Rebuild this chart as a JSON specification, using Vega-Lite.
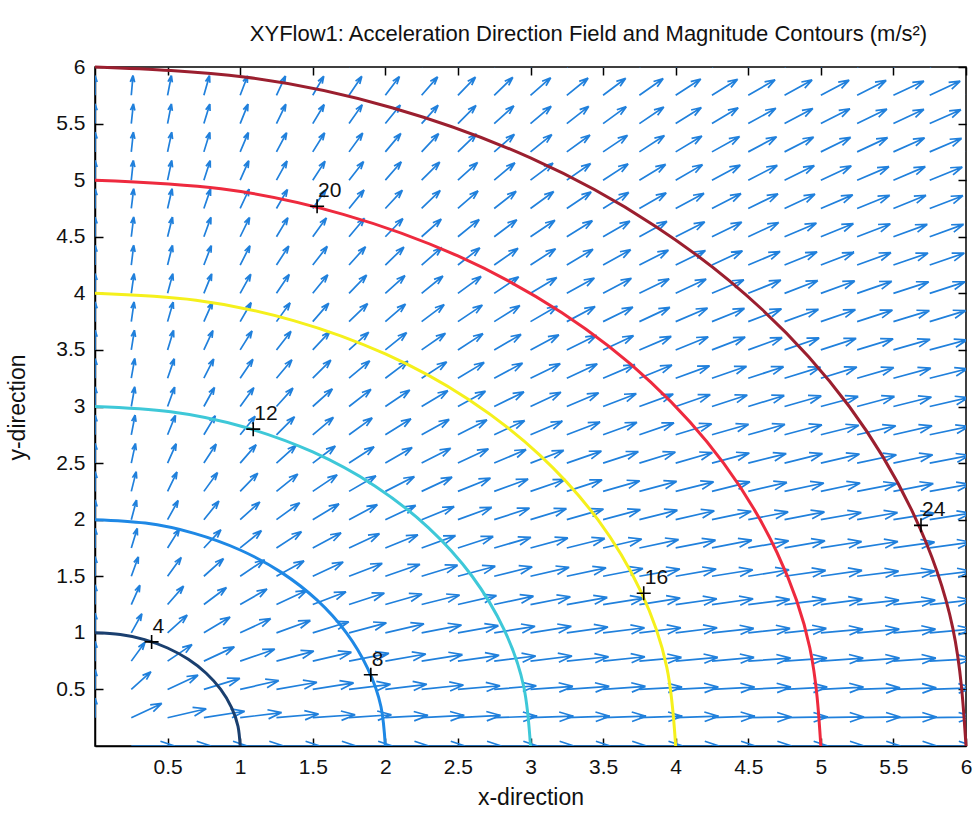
{
"$schema":"https://vega.github.io/schema/vega-lite/v6.json",
"width":871,"height":679,
"autosize":{"type":"none"},
"padding":{"left":95,"top":67,"right":11,"bottom":69},
"background":"#ffffff",
"title":{"text":"XYFlow1:  Acceleration Direction Field and Magnitude Contours (m/s²)","fontSize":22,"fontWeight":"normal","font":"Liberation Sans","color":"#111111","anchor":"middle","frame":"group","baseline":"alphabetic","offset":-7,"dx":58},
"config":{"view":{"stroke":"#000000","strokeWidth":1.5},"axis":{"labelFont":"Liberation Sans","titleFont":"Liberation Sans","labelColor":"#111111","titleColor":"#111111","tickColor":"#000000","domainColor":"#000000","grid":false,"labelFontSize":21,"titleFontSize":23,"titleFontWeight":"normal","tickWidth":1.5,"domainWidth":1.5,"labelFlush":false,"labelOverlap":false}},
"datasets":{
"arrows":[
{"x":0.25,"y":0,"a":0},{"x":0.5,"y":0,"a":0},{"x":0.75,"y":0,"a":0},{"x":1,"y":0,"a":0},{"x":1.25,"y":0,"a":0},{"x":1.5,"y":0,"a":0},{"x":1.75,"y":0,"a":0},{"x":2,"y":0,"a":0},{"x":2.25,"y":0,"a":0},{"x":2.5,"y":0,"a":0},{"x":2.75,"y":0,"a":0},{"x":3,"y":0,"a":0},{"x":3.25,"y":0,"a":0},{"x":3.5,"y":0,"a":0},{"x":3.75,"y":0,"a":0},{"x":4,"y":0,"a":0},{"x":4.25,"y":0,"a":0},{"x":4.5,"y":0,"a":0},{"x":4.75,"y":0,"a":0},{"x":5,"y":0,"a":0},{"x":5.25,"y":0,"a":0},{"x":5.5,"y":0,"a":0},{"x":5.75,"y":0,"a":0},{"x":6,"y":0,"a":0},
{"x":0,"y":0.25,"a":90},{"x":0.25,"y":0.25,"a":25},{"x":0.5,"y":0.25,"a":13},{"x":0.75,"y":0.25,"a":9},{"x":1,"y":0.25,"a":7},{"x":1.25,"y":0.25,"a":5},{"x":1.5,"y":0.25,"a":4},{"x":1.75,"y":0.25,"a":4},{"x":2,"y":0.25,"a":3},{"x":2.25,"y":0.25,"a":3},{"x":2.5,"y":0.25,"a":3},{"x":2.75,"y":0.25,"a":2},{"x":3,"y":0.25,"a":2},{"x":3.25,"y":0.25,"a":2},{"x":3.5,"y":0.25,"a":2},{"x":3.75,"y":0.25,"a":2},{"x":4,"y":0.25,"a":2},{"x":4.25,"y":0.25,"a":2},{"x":4.5,"y":0.25,"a":1},{"x":4.75,"y":0.25,"a":1},{"x":5,"y":0.25,"a":1},{"x":5.25,"y":0.25,"a":1},{"x":5.5,"y":0.25,"a":1},{"x":5.75,"y":0.25,"a":1},{"x":6,"y":0.25,"a":1},
{"x":0,"y":0.5,"a":90},{"x":0.25,"y":0.5,"a":42},{"x":0.5,"y":0.5,"a":25},{"x":0.75,"y":0.5,"a":17},{"x":1,"y":0.5,"a":13},{"x":1.25,"y":0.5,"a":10},{"x":1.5,"y":0.5,"a":9},{"x":1.75,"y":0.5,"a":7},{"x":2,"y":0.5,"a":7},{"x":2.25,"y":0.5,"a":6},{"x":2.5,"y":0.5,"a":5},{"x":2.75,"y":0.5,"a":5},{"x":3,"y":0.5,"a":4},{"x":3.25,"y":0.5,"a":4},{"x":3.5,"y":0.5,"a":4},{"x":3.75,"y":0.5,"a":3},{"x":4,"y":0.5,"a":3},{"x":4.25,"y":0.5,"a":3},{"x":4.5,"y":0.5,"a":3},{"x":4.75,"y":0.5,"a":3},{"x":5,"y":0.5,"a":3},{"x":5.25,"y":0.5,"a":2},{"x":5.5,"y":0.5,"a":2},{"x":5.75,"y":0.5,"a":2},{"x":6,"y":0.5,"a":2},
{"x":0,"y":0.75,"a":90},{"x":0.25,"y":0.75,"a":54},{"x":0.5,"y":0.75,"a":34},{"x":0.75,"y":0.75,"a":25},{"x":1,"y":0.75,"a":19},{"x":1.25,"y":0.75,"a":15},{"x":1.5,"y":0.75,"a":13},{"x":1.75,"y":0.75,"a":11},{"x":2,"y":0.75,"a":10},{"x":2.25,"y":0.75,"a":9},{"x":2.5,"y":0.75,"a":8},{"x":2.75,"y":0.75,"a":7},{"x":3,"y":0.75,"a":7},{"x":3.25,"y":0.75,"a":6},{"x":3.5,"y":0.75,"a":6},{"x":3.75,"y":0.75,"a":5},{"x":4,"y":0.75,"a":5},{"x":4.25,"y":0.75,"a":5},{"x":4.5,"y":0.75,"a":4},{"x":4.75,"y":0.75,"a":4},{"x":5,"y":0.75,"a":4},{"x":5.25,"y":0.75,"a":4},{"x":5.5,"y":0.75,"a":4},{"x":5.75,"y":0.75,"a":3},{"x":6,"y":0.75,"a":3},
{"x":0,"y":1,"a":90},{"x":0.25,"y":1,"a":61},{"x":0.5,"y":1,"a":42},{"x":0.75,"y":1,"a":31},{"x":1,"y":1,"a":25},{"x":1.25,"y":1,"a":20},{"x":1.5,"y":1,"a":17},{"x":1.75,"y":1,"a":15},{"x":2,"y":1,"a":13},{"x":2.25,"y":1,"a":11},{"x":2.5,"y":1,"a":10},{"x":2.75,"y":1,"a":9},{"x":3,"y":1,"a":9},{"x":3.25,"y":1,"a":8},{"x":3.5,"y":1,"a":7},{"x":3.75,"y":1,"a":7},{"x":4,"y":1,"a":7},{"x":4.25,"y":1,"a":6},{"x":4.5,"y":1,"a":6},{"x":4.75,"y":1,"a":6},{"x":5,"y":1,"a":5},{"x":5.25,"y":1,"a":5},{"x":5.5,"y":1,"a":5},{"x":5.75,"y":1,"a":5},{"x":6,"y":1,"a":4},
{"x":0,"y":1.25,"a":90},{"x":0.25,"y":1.25,"a":66},{"x":0.5,"y":1.25,"a":49},{"x":0.75,"y":1.25,"a":37},{"x":1,"y":1.25,"a":30},{"x":1.25,"y":1.25,"a":25},{"x":1.5,"y":1.25,"a":21},{"x":1.75,"y":1.25,"a":18},{"x":2,"y":1.25,"a":16},{"x":2.25,"y":1.25,"a":14},{"x":2.5,"y":1.25,"a":13},{"x":2.75,"y":1.25,"a":12},{"x":3,"y":1.25,"a":11},{"x":3.25,"y":1.25,"a":10},{"x":3.5,"y":1.25,"a":9},{"x":3.75,"y":1.25,"a":9},{"x":4,"y":1.25,"a":8},{"x":4.25,"y":1.25,"a":8},{"x":4.5,"y":1.25,"a":7},{"x":4.75,"y":1.25,"a":7},{"x":5,"y":1.25,"a":7},{"x":5.25,"y":1.25,"a":6},{"x":5.5,"y":1.25,"a":6},{"x":5.75,"y":1.25,"a":6},{"x":6,"y":1.25,"a":5},
{"x":0,"y":1.5,"a":90},{"x":0.25,"y":1.5,"a":70},{"x":0.5,"y":1.5,"a":54},{"x":0.75,"y":1.5,"a":42},{"x":1,"y":1.5,"a":34},{"x":1.25,"y":1.5,"a":29},{"x":1.5,"y":1.5,"a":25},{"x":1.75,"y":1.5,"a":21},{"x":2,"y":1.5,"a":19},{"x":2.25,"y":1.5,"a":17},{"x":2.5,"y":1.5,"a":15},{"x":2.75,"y":1.5,"a":14},{"x":3,"y":1.5,"a":13},{"x":3.25,"y":1.5,"a":12},{"x":3.5,"y":1.5,"a":11},{"x":3.75,"y":1.5,"a":10},{"x":4,"y":1.5,"a":10},{"x":4.25,"y":1.5,"a":9},{"x":4.5,"y":1.5,"a":9},{"x":4.75,"y":1.5,"a":8},{"x":5,"y":1.5,"a":8},{"x":5.25,"y":1.5,"a":7},{"x":5.5,"y":1.5,"a":7},{"x":5.75,"y":1.5,"a":7},{"x":6,"y":1.5,"a":7},
{"x":0,"y":1.75,"a":90},{"x":0.25,"y":1.75,"a":73},{"x":0.5,"y":1.75,"a":58},{"x":0.75,"y":1.75,"a":47},{"x":1,"y":1.75,"a":39},{"x":1.25,"y":1.75,"a":33},{"x":1.5,"y":1.75,"a":28},{"x":1.75,"y":1.75,"a":25},{"x":2,"y":1.75,"a":22},{"x":2.25,"y":1.75,"a":20},{"x":2.5,"y":1.75,"a":18},{"x":2.75,"y":1.75,"a":16},{"x":3,"y":1.75,"a":15},{"x":3.25,"y":1.75,"a":14},{"x":3.5,"y":1.75,"a":13},{"x":3.75,"y":1.75,"a":12},{"x":4,"y":1.75,"a":11},{"x":4.25,"y":1.75,"a":11},{"x":4.5,"y":1.75,"a":10},{"x":4.75,"y":1.75,"a":10},{"x":5,"y":1.75,"a":9},{"x":5.25,"y":1.75,"a":9},{"x":5.5,"y":1.75,"a":8},{"x":5.75,"y":1.75,"a":8},{"x":6,"y":1.75,"a":8},
{"x":0,"y":2,"a":90},{"x":0.25,"y":2,"a":75},{"x":0.5,"y":2,"a":61},{"x":0.75,"y":2,"a":51},{"x":1,"y":2,"a":42},{"x":1.25,"y":2,"a":36},{"x":1.5,"y":2,"a":31},{"x":1.75,"y":2,"a":28},{"x":2,"y":2,"a":25},{"x":2.25,"y":2,"a":22},{"x":2.5,"y":2,"a":20},{"x":2.75,"y":2,"a":18},{"x":3,"y":2,"a":17},{"x":3.25,"y":2,"a":16},{"x":3.5,"y":2,"a":15},{"x":3.75,"y":2,"a":14},{"x":4,"y":2,"a":13},{"x":4.25,"y":2,"a":12},{"x":4.5,"y":2,"a":11},{"x":4.75,"y":2,"a":11},{"x":5,"y":2,"a":10},{"x":5.25,"y":2,"a":10},{"x":5.5,"y":2,"a":9},{"x":5.75,"y":2,"a":9},{"x":6,"y":2,"a":9},
{"x":0,"y":2.25,"a":90},{"x":0.25,"y":2.25,"a":76},{"x":0.5,"y":2.25,"a":64},{"x":0.75,"y":2.25,"a":54},{"x":1,"y":2.25,"a":46},{"x":1.25,"y":2.25,"a":39},{"x":1.5,"y":2.25,"a":34},{"x":1.75,"y":2.25,"a":30},{"x":2,"y":2.25,"a":27},{"x":2.25,"y":2.25,"a":25},{"x":2.5,"y":2.25,"a":22},{"x":2.75,"y":2.25,"a":20},{"x":3,"y":2.25,"a":19},{"x":3.25,"y":2.25,"a":18},{"x":3.5,"y":2.25,"a":16},{"x":3.75,"y":2.25,"a":15},{"x":4,"y":2.25,"a":14},{"x":4.25,"y":2.25,"a":14},{"x":4.5,"y":2.25,"a":13},{"x":4.75,"y":2.25,"a":12},{"x":5,"y":2.25,"a":12},{"x":5.25,"y":2.25,"a":11},{"x":5.5,"y":2.25,"a":11},{"x":5.75,"y":2.25,"a":10},{"x":6,"y":2.25,"a":10},
{"x":0,"y":2.5,"a":90},{"x":0.25,"y":2.5,"a":78},{"x":0.5,"y":2.5,"a":66},{"x":0.75,"y":2.5,"a":57},{"x":1,"y":2.5,"a":49},{"x":1.25,"y":2.5,"a":42},{"x":1.5,"y":2.5,"a":37},{"x":1.75,"y":2.5,"a":33},{"x":2,"y":2.5,"a":30},{"x":2.25,"y":2.5,"a":27},{"x":2.5,"y":2.5,"a":25},{"x":2.75,"y":2.5,"a":23},{"x":3,"y":2.5,"a":21},{"x":3.25,"y":2.5,"a":19},{"x":3.5,"y":2.5,"a":18},{"x":3.75,"y":2.5,"a":17},{"x":4,"y":2.5,"a":16},{"x":4.25,"y":2.5,"a":15},{"x":4.5,"y":2.5,"a":14},{"x":4.75,"y":2.5,"a":14},{"x":5,"y":2.5,"a":13},{"x":5.25,"y":2.5,"a":12},{"x":5.5,"y":2.5,"a":12},{"x":5.75,"y":2.5,"a":11},{"x":6,"y":2.5,"a":11},
{"x":0,"y":2.75,"a":90},{"x":0.25,"y":2.75,"a":79},{"x":0.5,"y":2.75,"a":68},{"x":0.75,"y":2.75,"a":59},{"x":1,"y":2.75,"a":51},{"x":1.25,"y":2.75,"a":45},{"x":1.5,"y":2.75,"a":40},{"x":1.75,"y":2.75,"a":36},{"x":2,"y":2.75,"a":32},{"x":2.25,"y":2.75,"a":29},{"x":2.5,"y":2.75,"a":27},{"x":2.75,"y":2.75,"a":25},{"x":3,"y":2.75,"a":23},{"x":3.25,"y":2.75,"a":21},{"x":3.5,"y":2.75,"a":20},{"x":3.75,"y":2.75,"a":19},{"x":4,"y":2.75,"a":17},{"x":4.25,"y":2.75,"a":16},{"x":4.5,"y":2.75,"a":16},{"x":4.75,"y":2.75,"a":15},{"x":5,"y":2.75,"a":14},{"x":5.25,"y":2.75,"a":13},{"x":5.5,"y":2.75,"a":13},{"x":5.75,"y":2.75,"a":12},{"x":6,"y":2.75,"a":12},
{"x":0,"y":3,"a":90},{"x":0.25,"y":3,"a":80},{"x":0.5,"y":3,"a":70},{"x":0.75,"y":3,"a":61},{"x":1,"y":3,"a":54},{"x":1.25,"y":3,"a":48},{"x":1.5,"y":3,"a":42},{"x":1.75,"y":3,"a":38},{"x":2,"y":3,"a":34},{"x":2.25,"y":3,"a":31},{"x":2.5,"y":3,"a":29},{"x":2.75,"y":3,"a":26},{"x":3,"y":3,"a":25},{"x":3.25,"y":3,"a":23},{"x":3.5,"y":3,"a":21},{"x":3.75,"y":3,"a":20},{"x":4,"y":3,"a":19},{"x":4.25,"y":3,"a":18},{"x":4.5,"y":3,"a":17},{"x":4.75,"y":3,"a":16},{"x":5,"y":3,"a":15},{"x":5.25,"y":3,"a":15},{"x":5.5,"y":3,"a":14},{"x":5.75,"y":3,"a":13},{"x":6,"y":3,"a":13},
{"x":0,"y":3.25,"a":90},{"x":0.25,"y":3.25,"a":80},{"x":0.5,"y":3.25,"a":71},{"x":0.75,"y":3.25,"a":63},{"x":1,"y":3.25,"a":56},{"x":1.25,"y":3.25,"a":50},{"x":1.5,"y":3.25,"a":45},{"x":1.75,"y":3.25,"a":40},{"x":2,"y":3.25,"a":37},{"x":2.25,"y":3.25,"a":33},{"x":2.5,"y":3.25,"a":31},{"x":2.75,"y":3.25,"a":28},{"x":3,"y":3.25,"a":26},{"x":3.25,"y":3.25,"a":25},{"x":3.5,"y":3.25,"a":23},{"x":3.75,"y":3.25,"a":22},{"x":4,"y":3.25,"a":20},{"x":4.25,"y":3.25,"a":19},{"x":4.5,"y":3.25,"a":18},{"x":4.75,"y":3.25,"a":17},{"x":5,"y":3.25,"a":17},{"x":5.25,"y":3.25,"a":16},{"x":5.5,"y":3.25,"a":15},{"x":5.75,"y":3.25,"a":14},{"x":6,"y":3.25,"a":14},
{"x":0,"y":3.5,"a":90},{"x":0.25,"y":3.5,"a":81},{"x":0.5,"y":3.5,"a":73},{"x":0.75,"y":3.5,"a":65},{"x":1,"y":3.5,"a":58},{"x":1.25,"y":3.5,"a":52},{"x":1.5,"y":3.5,"a":47},{"x":1.75,"y":3.5,"a":42},{"x":2,"y":3.5,"a":39},{"x":2.25,"y":3.5,"a":35},{"x":2.5,"y":3.5,"a":33},{"x":2.75,"y":3.5,"a":30},{"x":3,"y":3.5,"a":28},{"x":3.25,"y":3.5,"a":26},{"x":3.5,"y":3.5,"a":25},{"x":3.75,"y":3.5,"a":23},{"x":4,"y":3.5,"a":22},{"x":4.25,"y":3.5,"a":21},{"x":4.5,"y":3.5,"a":20},{"x":4.75,"y":3.5,"a":19},{"x":5,"y":3.5,"a":18},{"x":5.25,"y":3.5,"a":17},{"x":5.5,"y":3.5,"a":16},{"x":5.75,"y":3.5,"a":15},{"x":6,"y":3.5,"a":15},
{"x":0,"y":3.75,"a":90},{"x":0.25,"y":3.75,"a":82},{"x":0.5,"y":3.75,"a":74},{"x":0.75,"y":3.75,"a":66},{"x":1,"y":3.75,"a":60},{"x":1.25,"y":3.75,"a":54},{"x":1.5,"y":3.75,"a":49},{"x":1.75,"y":3.75,"a":44},{"x":2,"y":3.75,"a":41},{"x":2.25,"y":3.75,"a":37},{"x":2.5,"y":3.75,"a":34},{"x":2.75,"y":3.75,"a":32},{"x":3,"y":3.75,"a":30},{"x":3.25,"y":3.75,"a":28},{"x":3.5,"y":3.75,"a":26},{"x":3.75,"y":3.75,"a":25},{"x":4,"y":3.75,"a":23},{"x":4.25,"y":3.75,"a":22},{"x":4.5,"y":3.75,"a":21},{"x":4.75,"y":3.75,"a":20},{"x":5,"y":3.75,"a":19},{"x":5.25,"y":3.75,"a":18},{"x":5.5,"y":3.75,"a":17},{"x":5.75,"y":3.75,"a":17},{"x":6,"y":3.75,"a":16},
{"x":0,"y":4,"a":90},{"x":0.25,"y":4,"a":82},{"x":0.5,"y":4,"a":75},{"x":0.75,"y":4,"a":68},{"x":1,"y":4,"a":61},{"x":1.25,"y":4,"a":56},{"x":1.5,"y":4,"a":51},{"x":1.75,"y":4,"a":46},{"x":2,"y":4,"a":42},{"x":2.25,"y":4,"a":39},{"x":2.5,"y":4,"a":36},{"x":2.75,"y":4,"a":34},{"x":3,"y":4,"a":31},{"x":3.25,"y":4,"a":29},{"x":3.5,"y":4,"a":28},{"x":3.75,"y":4,"a":26},{"x":4,"y":4,"a":25},{"x":4.25,"y":4,"a":23},{"x":4.5,"y":4,"a":22},{"x":4.75,"y":4,"a":21},{"x":5,"y":4,"a":20},{"x":5.25,"y":4,"a":19},{"x":5.5,"y":4,"a":18},{"x":5.75,"y":4,"a":18},{"x":6,"y":4,"a":17},
{"x":0,"y":4.25,"a":90},{"x":0.25,"y":4.25,"a":83},{"x":0.5,"y":4.25,"a":76},{"x":0.75,"y":4.25,"a":69},{"x":1,"y":4.25,"a":63},{"x":1.25,"y":4.25,"a":57},{"x":1.5,"y":4.25,"a":52},{"x":1.75,"y":4.25,"a":48},{"x":2,"y":4.25,"a":44},{"x":2.25,"y":4.25,"a":41},{"x":2.5,"y":4.25,"a":38},{"x":2.75,"y":4.25,"a":35},{"x":3,"y":4.25,"a":33},{"x":3.25,"y":4.25,"a":31},{"x":3.5,"y":4.25,"a":29},{"x":3.75,"y":4.25,"a":27},{"x":4,"y":4.25,"a":26},{"x":4.25,"y":4.25,"a":25},{"x":4.5,"y":4.25,"a":23},{"x":4.75,"y":4.25,"a":22},{"x":5,"y":4.25,"a":21},{"x":5.25,"y":4.25,"a":20},{"x":5.5,"y":4.25,"a":19},{"x":5.75,"y":4.25,"a":19},{"x":6,"y":4.25,"a":18},
{"x":0,"y":4.5,"a":90},{"x":0.25,"y":4.5,"a":83},{"x":0.5,"y":4.5,"a":76},{"x":0.75,"y":4.5,"a":70},{"x":1,"y":4.5,"a":64},{"x":1.25,"y":4.5,"a":59},{"x":1.5,"y":4.5,"a":54},{"x":1.75,"y":4.5,"a":50},{"x":2,"y":4.5,"a":46},{"x":2.25,"y":4.5,"a":42},{"x":2.5,"y":4.5,"a":39},{"x":2.75,"y":4.5,"a":37},{"x":3,"y":4.5,"a":34},{"x":3.25,"y":4.5,"a":32},{"x":3.5,"y":4.5,"a":30},{"x":3.75,"y":4.5,"a":29},{"x":4,"y":4.5,"a":27},{"x":4.25,"y":4.5,"a":26},{"x":4.5,"y":4.5,"a":25},{"x":4.75,"y":4.5,"a":23},{"x":5,"y":4.5,"a":22},{"x":5.25,"y":4.5,"a":21},{"x":5.5,"y":4.5,"a":20},{"x":5.75,"y":4.5,"a":20},{"x":6,"y":4.5,"a":19},
{"x":0,"y":4.75,"a":90},{"x":0.25,"y":4.75,"a":83},{"x":0.5,"y":4.75,"a":77},{"x":0.75,"y":4.75,"a":71},{"x":1,"y":4.75,"a":65},{"x":1.25,"y":4.75,"a":60},{"x":1.5,"y":4.75,"a":55},{"x":1.75,"y":4.75,"a":51},{"x":2,"y":4.75,"a":47},{"x":2.25,"y":4.75,"a":44},{"x":2.5,"y":4.75,"a":41},{"x":2.75,"y":4.75,"a":38},{"x":3,"y":4.75,"a":36},{"x":3.25,"y":4.75,"a":34},{"x":3.5,"y":4.75,"a":32},{"x":3.75,"y":4.75,"a":30},{"x":4,"y":4.75,"a":28},{"x":4.25,"y":4.75,"a":27},{"x":4.5,"y":4.75,"a":26},{"x":4.75,"y":4.75,"a":25},{"x":5,"y":4.75,"a":23},{"x":5.25,"y":4.75,"a":22},{"x":5.5,"y":4.75,"a":22},{"x":5.75,"y":4.75,"a":21},{"x":6,"y":4.75,"a":20},
{"x":0,"y":5,"a":90},{"x":0.25,"y":5,"a":84},{"x":0.5,"y":5,"a":78},{"x":0.75,"y":5,"a":72},{"x":1,"y":5,"a":66},{"x":1.25,"y":5,"a":61},{"x":1.5,"y":5,"a":57},{"x":1.75,"y":5,"a":52},{"x":2,"y":5,"a":49},{"x":2.25,"y":5,"a":45},{"x":2.5,"y":5,"a":42},{"x":2.75,"y":5,"a":40},{"x":3,"y":5,"a":37},{"x":3.25,"y":5,"a":35},{"x":3.5,"y":5,"a":33},{"x":3.75,"y":5,"a":31},{"x":4,"y":5,"a":30},{"x":4.25,"y":5,"a":28},{"x":4.5,"y":5,"a":27},{"x":4.75,"y":5,"a":26},{"x":5,"y":5,"a":25},{"x":5.25,"y":5,"a":23},{"x":5.5,"y":5,"a":23},{"x":5.75,"y":5,"a":22},{"x":6,"y":5,"a":21},
{"x":0,"y":5.25,"a":90},{"x":0.25,"y":5.25,"a":84},{"x":0.5,"y":5.25,"a":78},{"x":0.75,"y":5.25,"a":73},{"x":1,"y":5.25,"a":67},{"x":1.25,"y":5.25,"a":62},{"x":1.5,"y":5.25,"a":58},{"x":1.75,"y":5.25,"a":54},{"x":2,"y":5.25,"a":50},{"x":2.25,"y":5.25,"a":47},{"x":2.5,"y":5.25,"a":44},{"x":2.75,"y":5.25,"a":41},{"x":3,"y":5.25,"a":39},{"x":3.25,"y":5.25,"a":36},{"x":3.5,"y":5.25,"a":34},{"x":3.75,"y":5.25,"a":33},{"x":4,"y":5.25,"a":31},{"x":4.25,"y":5.25,"a":29},{"x":4.5,"y":5.25,"a":28},{"x":4.75,"y":5.25,"a":27},{"x":5,"y":5.25,"a":26},{"x":5.25,"y":5.25,"a":25},{"x":5.5,"y":5.25,"a":24},{"x":5.75,"y":5.25,"a":23},{"x":6,"y":5.25,"a":22},
{"x":0,"y":5.5,"a":90},{"x":0.25,"y":5.5,"a":84},{"x":0.5,"y":5.5,"a":79},{"x":0.75,"y":5.5,"a":73},{"x":1,"y":5.5,"a":68},{"x":1.25,"y":5.5,"a":64},{"x":1.5,"y":5.5,"a":59},{"x":1.75,"y":5.5,"a":55},{"x":2,"y":5.5,"a":51},{"x":2.25,"y":5.5,"a":48},{"x":2.5,"y":5.5,"a":45},{"x":2.75,"y":5.5,"a":42},{"x":3,"y":5.5,"a":40},{"x":3.25,"y":5.5,"a":38},{"x":3.5,"y":5.5,"a":36},{"x":3.75,"y":5.5,"a":34},{"x":4,"y":5.5,"a":32},{"x":4.25,"y":5.5,"a":31},{"x":4.5,"y":5.5,"a":29},{"x":4.75,"y":5.5,"a":28},{"x":5,"y":5.5,"a":27},{"x":5.25,"y":5.5,"a":26},{"x":5.5,"y":5.5,"a":25},{"x":5.75,"y":5.5,"a":24},{"x":6,"y":5.5,"a":23},
{"x":0,"y":5.75,"a":90},{"x":0.25,"y":5.75,"a":85},{"x":0.5,"y":5.75,"a":79},{"x":0.75,"y":5.75,"a":74},{"x":1,"y":5.75,"a":69},{"x":1.25,"y":5.75,"a":65},{"x":1.5,"y":5.75,"a":60},{"x":1.75,"y":5.75,"a":56},{"x":2,"y":5.75,"a":53},{"x":2.25,"y":5.75,"a":49},{"x":2.5,"y":5.75,"a":46},{"x":2.75,"y":5.75,"a":44},{"x":3,"y":5.75,"a":41},{"x":3.25,"y":5.75,"a":39},{"x":3.5,"y":5.75,"a":37},{"x":3.75,"y":5.75,"a":35},{"x":4,"y":5.75,"a":33},{"x":4.25,"y":5.75,"a":32},{"x":4.5,"y":5.75,"a":30},{"x":4.75,"y":5.75,"a":29},{"x":5,"y":5.75,"a":28},{"x":5.25,"y":5.75,"a":27},{"x":5.5,"y":5.75,"a":25},{"x":5.75,"y":5.75,"a":25},{"x":6,"y":5.75,"a":24},
{"x":0,"y":6,"a":90},{"x":0.25,"y":6,"a":85},{"x":0.5,"y":6,"a":80},{"x":0.75,"y":6,"a":75},{"x":1,"y":6,"a":70},{"x":1.25,"y":6,"a":65},{"x":1.5,"y":6,"a":61},{"x":1.75,"y":6,"a":57},{"x":2,"y":6,"a":54},{"x":2.25,"y":6,"a":51},{"x":2.5,"y":6,"a":48},{"x":2.75,"y":6,"a":45},{"x":3,"y":6,"a":42},{"x":3.25,"y":6,"a":40},{"x":3.5,"y":6,"a":38},{"x":3.75,"y":6,"a":36},{"x":4,"y":6,"a":34},{"x":4.25,"y":6,"a":33},{"x":4.5,"y":6,"a":31},{"x":4.75,"y":6,"a":30},{"x":5,"y":6,"a":29},{"x":5.25,"y":6,"a":28},{"x":5.5,"y":6,"a":26},{"x":5.75,"y":6,"a":25},{"x":6,"y":6,"a":25}
],
"contours":[
{"r":1,"k":0,"x":1,"y":0},{"r":1,"k":1,"x":0.985,"y":0.174},{"r":1,"k":2,"x":0.94,"y":0.342},{"r":1,"k":3,"x":0.866,"y":0.5},{"r":1,"k":4,"x":0.766,"y":0.643},{"r":1,"k":5,"x":0.643,"y":0.766},{"r":1,"k":6,"x":0.5,"y":0.866},{"r":1,"k":7,"x":0.342,"y":0.94},{"r":1,"k":8,"x":0.174,"y":0.985},{"r":1,"k":9,"x":0,"y":1},
{"r":2,"k":0,"x":2,"y":0},{"r":2,"k":1,"x":1.97,"y":0.347},{"r":2,"k":2,"x":1.879,"y":0.684},{"r":2,"k":3,"x":1.732,"y":1},{"r":2,"k":4,"x":1.532,"y":1.286},{"r":2,"k":5,"x":1.286,"y":1.532},{"r":2,"k":6,"x":1,"y":1.732},{"r":2,"k":7,"x":0.684,"y":1.879},{"r":2,"k":8,"x":0.347,"y":1.97},{"r":2,"k":9,"x":0,"y":2},
{"r":3,"k":0,"x":3,"y":0},{"r":3,"k":1,"x":2.954,"y":0.521},{"r":3,"k":2,"x":2.819,"y":1.026},{"r":3,"k":3,"x":2.598,"y":1.5},{"r":3,"k":4,"x":2.298,"y":1.928},{"r":3,"k":5,"x":1.928,"y":2.298},{"r":3,"k":6,"x":1.5,"y":2.598},{"r":3,"k":7,"x":1.026,"y":2.819},{"r":3,"k":8,"x":0.521,"y":2.954},{"r":3,"k":9,"x":0,"y":3},
{"r":4,"k":0,"x":4,"y":0},{"r":4,"k":1,"x":3.939,"y":0.695},{"r":4,"k":2,"x":3.759,"y":1.368},{"r":4,"k":3,"x":3.464,"y":2},{"r":4,"k":4,"x":3.064,"y":2.571},{"r":4,"k":5,"x":2.571,"y":3.064},{"r":4,"k":6,"x":2,"y":3.464},{"r":4,"k":7,"x":1.368,"y":3.759},{"r":4,"k":8,"x":0.695,"y":3.939},{"r":4,"k":9,"x":0,"y":4},
{"r":5,"k":0,"x":5,"y":0},{"r":5,"k":1,"x":4.924,"y":0.868},{"r":5,"k":2,"x":4.698,"y":1.71},{"r":5,"k":3,"x":4.33,"y":2.5},{"r":5,"k":4,"x":3.83,"y":3.214},{"r":5,"k":5,"x":3.214,"y":3.83},{"r":5,"k":6,"x":2.5,"y":4.33},{"r":5,"k":7,"x":1.71,"y":4.698},{"r":5,"k":8,"x":0.868,"y":4.924},{"r":5,"k":9,"x":0,"y":5},
{"r":6,"k":0,"x":6,"y":0},{"r":6,"k":1,"x":5.909,"y":1.042},{"r":6,"k":2,"x":5.638,"y":2.052},{"r":6,"k":3,"x":5.196,"y":3},{"r":6,"k":4,"x":4.596,"y":3.857},{"r":6,"k":5,"x":3.857,"y":4.596},{"r":6,"k":6,"x":3,"y":5.196},{"r":6,"k":7,"x":2.052,"y":5.638},{"r":6,"k":8,"x":1.042,"y":5.909},{"r":6,"k":9,"x":0,"y":6}
],
"labels":[
{"lab":"4","x":0.39,"y":0.92},{"lab":"8","x":1.9,"y":0.63},{"lab":"12","x":1.09,"y":2.8},{"lab":"16","x":3.78,"y":1.35},{"lab":"20","x":1.53,"y":4.77},{"lab":"24","x":5.69,"y":1.95}
]
},
"layer":[
{"data":{"name":"arrows"},
 "mark":{"type":"point","shape":"M0,0L2,0M2,0L1.34,-0.22M2,0L1.34,0.22","filled":false,"color":"#2080dc","strokeWidth":1.7,"opacity":1,"clip":true},
 "encoding":{
  "x":{"field":"x","type":"quantitative","scale":{"domain":[0,6],"nice":false,"zero":false},
       "axis":{"orient":"bottom","values":[0.5,1,1.5,2,2.5,3,3.5,4,4.5,5,5.5,6],"tickSize":-8,"labelPadding":18,"title":"x-direction","titleY":51,"titleBaseline":"middle","titleAlign":"center","format":"~g"}},
  "y":{"field":"y","type":"quantitative","scale":{"domain":[0,6],"nice":false,"zero":false},
       "axis":{"orient":"left","values":[0.5,1,1.5,2,2.5,3,3.5,4,4.5,5,5.5,6],"tickSize":-8,"labelPadding":18,"title":"y-direction","titleX":-78,"titleY":340,"titleAngle":-90,"titleBaseline":"middle","titleAlign":"center","format":"~g"}},
  "size":{"field":"a","type":"quantitative","scale":{"domain":[0,10,20,30,40,50,60,70,80,90],"range":[1892,1696,1307,967,733,583,489,432,402,392]},"legend":null},
  "angle":{"field":"a","type":"quantitative","scale":{"domain":[0,90],"range":[360,270]},"legend":null}
 }},
{"data":{"name":"contours"},
 "mark":{"type":"line","interpolate":"natural","strokeWidth":3,"clip":false},
 "encoding":{
  "x":{"field":"x","type":"quantitative","axis":null},
  "y":{"field":"y","type":"quantitative","axis":null},
  "color":{"field":"r","type":"nominal","scale":{"domain":[1,2,3,4,5,6],"range":["#1a3f6f","#1e88e5","#3ec8d8","#f5f01c","#ee2a3e","#9b1f2f"]},"legend":null},
  "order":{"field":"k","type":"quantitative"}
 }},
{"data":{"name":"labels"},
 "mark":{"type":"point","shape":"M-1,0L1,0M0,-1L0,1","filled":false,"color":"#000000","strokeWidth":1.6,"opacity":1,"size":196},
 "encoding":{
  "x":{"field":"x","type":"quantitative","axis":null},
  "y":{"field":"y","type":"quantitative","axis":null}
 }},
{"data":{"name":"labels"},
 "mark":{"type":"text","align":"left","baseline":"alphabetic","dx":1,"dy":-9,"fontSize":21,"font":"Liberation Sans","color":"#111111"},
 "encoding":{
  "x":{"field":"x","type":"quantitative","axis":null},
  "y":{"field":"y","type":"quantitative","axis":null},
  "text":{"field":"lab","type":"nominal"}
 }},
{"data":{"name":"labels"},
 "mark":{"type":"point","opacity":0},
 "encoding":{
  "x":{"field":"x","type":"quantitative","axis":{"orient":"top","values":[0.5,1,1.5,2,2.5,3,3.5,4,4.5,5,5.5,6],"tickSize":-8,"labels":false,"domain":false,"title":null}},
  "y":{"field":"y","type":"quantitative","axis":{"orient":"right","values":[0.5,1,1.5,2,2.5,3,3.5,4,4.5,5,5.5,6],"tickSize":-8,"labels":false,"domain":false,"title":null}}
 }}
],
"resolve":{"axis":{"x":"independent","y":"independent"}}
}
